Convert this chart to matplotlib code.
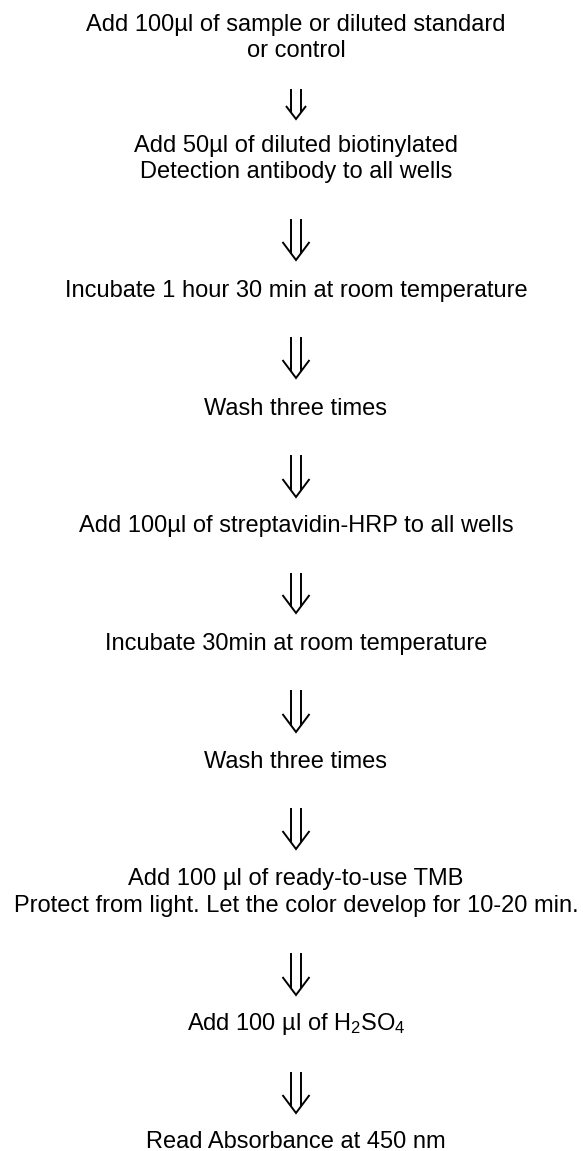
import matplotlib
matplotlib.use('Agg')
import matplotlib.pyplot as plt

# protocol steps, top to bottom
steps = [
    "Add 100µl of sample or diluted standard\nor control",
    "Add 50µl of diluted biotinylated\nDetection antibody to all wells",
    "Incubate 1 hour 30 min at room temperature",
    "Wash three times",
    "Add 100µl of streptavidin-HRP to all wells",
    "Incubate 30min at room temperature",
    "Wash three times",
    "Add 100 µl of ready-to-use TMB\nProtect from light. Let the color develop for 10-20 min.",
    "Add 100 µl of H$_2$SO$_4$",
    "Read Absorbance at 450 nm",
]

# layout (pixels from top)
step_y = [38, 159, 290.5, 408.5, 525.5, 643.5, 761.5, 892.5, 1024, 1141.5]
arrow_top = [89, 219, 337, 455, 573, 690, 808, 953, 1072]
arrow_tip = [119, 260, 378, 497, 613, 732, 849, 995, 1113]
center_x = 296

plt.rcParams['font.family'] = ['Liberation Sans', 'DejaVu Sans']
plt.rcParams['mathtext.fontset'] = 'custom'
plt.rcParams['mathtext.rm'] = 'Liberation Sans'
plt.rcParams['mathtext.it'] = 'Liberation Sans'
plt.rcParams['mathtext.bf'] = 'Liberation Sans:bold'


def draw_arrow(ax, x, top, tip):
    h = tip - top
    small = h < 35
    arm = 13 if small else 18
    half = 10 if small else 13.5
    gap = 5.3
    stop = tip - arm * gap / half
    kw = dict(color='black', lw=1.4, solid_capstyle='butt', solid_joinstyle='miter')
    ax.plot([x - gap, x - gap], [top, stop], **kw)
    ax.plot([x + gap, x + gap], [top, stop], **kw)
    ax.plot([x - half, x, x + half], [tip - arm, tip, tip - arm], **kw)


fig = plt.figure(figsize=(5.83, 11.51), dpi=100)
ax = fig.add_axes([0, 0, 1, 1])
ax.set_xlim(0, 583)
ax.set_ylim(1151, 0)
ax.axis('off')

for label, y in zip(steps, step_y):
    ax.text(center_x, y, label, ha='center', va='center', multialignment='center',
            fontsize=17, linespacing=1.25, color='black')

for top, tip in zip(arrow_top, arrow_tip):
    draw_arrow(ax, center_x, top, tip)

fig.savefig('out.png', dpi=100, facecolor='white')
